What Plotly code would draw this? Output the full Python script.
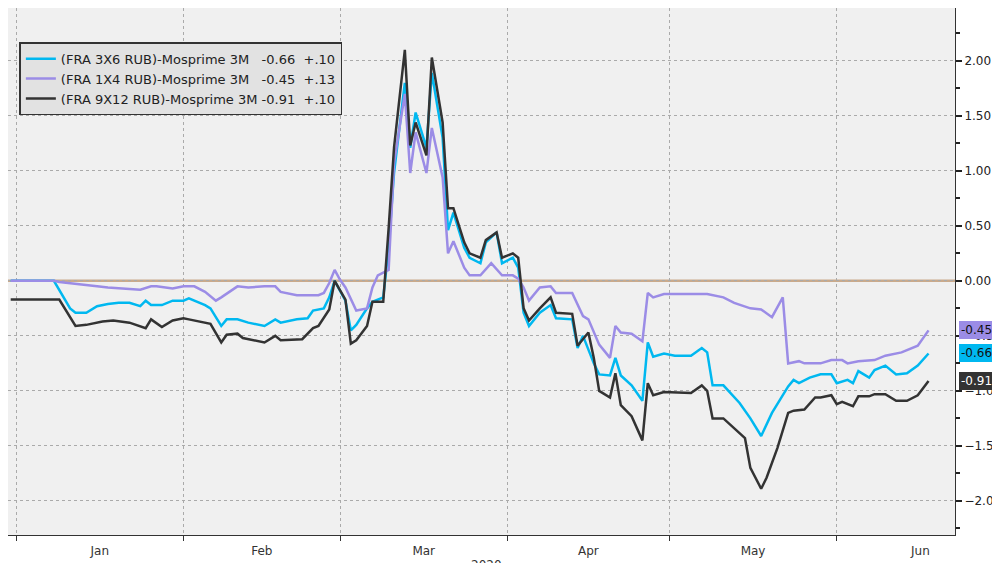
import pandas as pd
import plotly.graph_objects as go

# day offsets from 2020-01-01 and values
d36 = [-1,7,10,11,13,15,17,19,21,23,24,25,27,29,31,32,35,36,38,39,41,43,46,48,49,52,54,55,57,58,59,61,62,63,65,66,68,69,70,72,73,74,76,77,79,80,81,83,84,86,87,89,90,92,93,94,95,97,99,100,103,104,105,107,108,110,111,112,114,116,117,118,120,122,125,127,128,129,131,134,136,138,140,143,144,145,147,149,151,152,154,155,156,158,159,161,163,165,167,169]
v36 = [0.0,0.0,-0.25,-0.29,-0.29,-0.23,-0.21,-0.20,-0.20,-0.23,-0.18,-0.22,-0.22,-0.18,-0.18,-0.16,-0.22,-0.25,-0.41,-0.35,-0.35,-0.38,-0.41,-0.35,-0.38,-0.35,-0.34,-0.27,-0.25,-0.15,0.0,-0.18,-0.45,-0.40,-0.25,-0.19,-0.15,0.30,0.98,1.80,1.21,1.53,1.21,1.89,1.30,0.46,0.62,0.30,0.21,0.16,0.35,0.44,0.16,0.21,0.12,-0.29,-0.41,-0.29,-0.22,-0.34,-0.35,-0.61,-0.50,-0.75,-0.85,-0.86,-0.70,-0.86,-0.95,-1.09,-0.56,-0.69,-0.66,-0.68,-0.68,-0.61,-0.65,-0.95,-0.95,-1.11,-1.25,-1.41,-1.20,-0.96,-0.90,-0.93,-0.88,-0.85,-0.85,-0.93,-0.90,-0.93,-0.82,-0.88,-0.81,-0.77,-0.85,-0.84,-0.77,-0.66]

d14 = [-1,7,8,11,15,17,20,23,25,26,29,31,33,35,37,38,41,43,46,48,49,52,56,57,58,59,60,61,63,65,66,67,69,70,72,73,74,76,77,79,80,81,83,84,86,88,90,92,93,94,95,97,99,100,103,105,106,108,110,111,112,114,116,117,118,120,128,131,133,136,138,140,142,143,145,146,149,151,153,154,156,159,161,162,164,167,169]
v14 = [0,0,-0.01,-0.03,-0.05,-0.06,-0.07,-0.08,-0.05,-0.05,-0.07,-0.05,-0.05,-0.10,-0.18,-0.15,-0.05,-0.06,-0.05,-0.05,-0.10,-0.13,-0.13,-0.11,-0.02,0.10,0.01,-0.06,-0.27,-0.25,-0.06,0.05,0.10,1.07,1.70,0.98,1.35,0.98,1.39,0.94,0.25,0.36,0.12,0.05,0.05,0.16,0.05,0.05,0.02,-0.06,-0.18,-0.06,-0.05,-0.11,-0.11,-0.32,-0.35,-0.58,-0.70,-0.41,-0.47,-0.48,-0.55,-0.11,-0.15,-0.12,-0.12,-0.15,-0.20,-0.25,-0.26,-0.33,-0.15,-0.75,-0.73,-0.75,-0.75,-0.72,-0.72,-0.75,-0.73,-0.72,-0.68,-0.67,-0.65,-0.59,-0.45]

d912 = [-1,7,8,11,13,16,18,21,24,25,27,29,31,32,35,36,38,39,41,42,46,48,49,53,55,56,58,59,61,62,63,65,66,68,69,70,72,73,74,76,77,79,80,81,83,84,86,87,89,90,92,93,94,95,97,99,100,103,104,106,107,108,110,111,112,114,116,117,118,120,125,127,128,129,131,134,135,136,138,139,141,143,144,146,148,149,151,152,153,155,156,158,159,161,163,165,167,169]
v912 = [-0.17,-0.17,-0.17,-0.41,-0.40,-0.37,-0.36,-0.38,-0.43,-0.35,-0.42,-0.36,-0.34,-0.35,-0.38,-0.39,-0.56,-0.49,-0.48,-0.52,-0.56,-0.50,-0.54,-0.53,-0.43,-0.41,-0.26,0.0,-0.17,-0.57,-0.54,-0.41,-0.19,-0.19,0.48,1.21,2.10,1.23,1.44,1.14,2.03,1.44,0.66,0.66,0.35,0.25,0.21,0.37,0.44,0.21,0.25,0.21,-0.25,-0.36,-0.25,-0.15,-0.29,-0.30,-0.59,-0.47,-0.70,-1.00,-1.06,-0.84,-1.13,-1.23,-1.45,-0.93,-1.04,-1.01,-1.02,-0.95,-1.00,-1.25,-1.25,-1.38,-1.43,-1.70,-1.89,-1.79,-1.52,-1.20,-1.18,-1.17,-1.06,-1.06,-1.04,-1.12,-1.10,-1.14,-1.05,-1.05,-1.03,-1.03,-1.09,-1.09,-1.04,-0.91]

names = ["(FRA 3X6 RUB)-Mosprime 3M&nbsp;&nbsp;&nbsp;-0.66&nbsp;&nbsp;+.10",
         "(FRA 1X4 RUB)-Mosprime 3M&nbsp;&nbsp;&nbsp;-0.45&nbsp;&nbsp;+.13",
         "(FRA 9X12 RUB)-Mosprime 3M&nbsp;-0.91&nbsp;&nbsp;+.10"]
colors = ["#00b8f0", "#9b8ce6", "#333333"]
last_labels = ["-0.66", "-0.45", "-0.91"]
text_colors = ["#111111", "#111111", "#ffffff"]

base = pd.Timestamp("2020-01-01")
def to_dates(days):
    return [base + pd.Timedelta(days=d) for d in days]

fig = go.Figure()
series = [(d36, v36), (d14, v14), (d912, v912)]
for (d, v), n, c in zip(series, names, colors):
    fig.add_trace(go.Scatter(x=to_dates(d), y=v, name=n, mode="lines",
                             line=dict(color=c, width=2.5)))

fig.add_hline(y=0, line=dict(color="#c9aa8c", width=2.5), layer="below")

for (d, v), c, t, tc in zip(series, colors, last_labels, text_colors):
    fig.add_annotation(xref="paper", x=1.0, y=v[-1], yref="y", text=t, showarrow=False,
                       xanchor="left", xshift=4, bgcolor=c, bordercolor=c,
                       font=dict(family="DejaVu Sans", size=12, color=tc), borderpad=1)

fig.add_annotation(xref="paper", yref="paper", x=0.505, y=-0.04, text="2020", showarrow=False,
                   yanchor="top", font=dict(family="DejaVu Sans", size=12, color="#333"))

fig.update_layout(
    width=1000, height=563,
    margin=dict(l=0, r=53, t=0, b=36, autoexpand=False),
    paper_bgcolor="#ffffff", plot_bgcolor="#f0f0f0",
    showlegend=True,
    legend=dict(x=0.012, y=0.935, xanchor="left", yanchor="top",
                bgcolor="#e2e2e2", bordercolor="#333333", borderwidth=1.5,
                font=dict(family="DejaVu Sans", size=13, color="#222"),
                tracegroupgap=0, itemwidth=30),
    xaxis=dict(type="date", range=[base + pd.Timedelta(days=-1.5), base + pd.Timedelta(days=173.9)],
               dtick="M1", tick0="2020-01-01", ticklabelmode="period", tickformat="%b",
               showgrid=True, gridcolor="#aaaaaa", griddash="dot", gridwidth=1, automargin=False,
               ticks="outside", ticklen=5, tickcolor="#333", showline=True, linecolor="#333",
               tickfont=dict(family="DejaVu Sans", size=12, color="#333")),
    yaxis=dict(side="right", range=[-2.31, 2.48], tickvals=[-2, -1.5, -1, -0.5, 0, 0.5, 1, 1.5, 2],
               tickformat=".2f", showgrid=True, gridcolor="#aaaaaa", griddash="dot", automargin=False,
               zeroline=False, ticks="outside", ticklen=6, tickwidth=2, tickcolor="#222",
               minor=dict(dtick=0.25, ticks="outside", ticklen=4, tickcolor="#222", showgrid=False),
               showline=True, linecolor="#333",
               tickfont=dict(family="DejaVu Sans", size=12, color="#222")),
)

fig.write_html("out.html")
